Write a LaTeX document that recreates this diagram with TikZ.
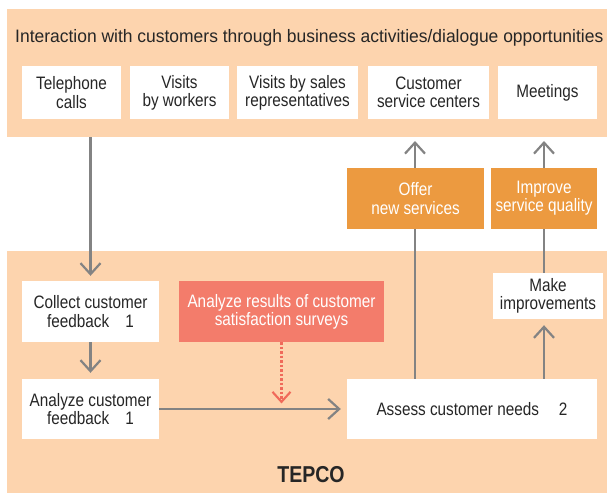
\documentclass[tikz,border=0pt]{standalone}
\usepackage{fontspec}
\setmainfont{Liberation Sans}[FakeStretch=0.85]
\newfontfamily\titlefont{Liberation Sans}[FakeStretch=0.97]
\usetikzlibrary{arrows.meta}
\definecolor{peach}{HTML}{FDD4AE}
\definecolor{orangebox}{HTML}{EC9A40}
\definecolor{redbox}{HTML}{F37C6B}
\definecolor{arrowgray}{HTML}{838383}
\definecolor{reddot}{HTML}{F06A5A}
\tikzset{
  band/.style={fill=peach, draw=none, inner sep=0pt},
  wbox/.style={fill=white, draw=none, inner sep=0pt, align=center, font=\fontsize{18}{18.3}\selectfont, text=black!85},
  obox/.style={fill=orangebox, draw=none, inner sep=0pt, align=center, font=\fontsize{18}{18.3}\selectfont, text=white},
  rbox/.style={fill=redbox, draw=none, inner sep=0pt, align=center, font=\fontsize{18}{18.3}\selectfont, text=white},
  flow/.style={draw=arrowgray, line width=2.2pt, -{Straight Barb[length=11pt,width=20pt,line width=2.2pt]}},
  plain/.style={draw=arrowgray, line width=2.2pt},
  dotflow/.style={draw=reddot, line width=2.3pt, dash pattern=on 2.3pt off 2.2pt, -{Straight Barb[length=10pt,width=18pt,line width=2.1pt,sep]}},
}
\begin{document}
\begin{tikzpicture}[x=1pt,y=-1pt]
\useasboundingbox (0,0) rectangle (607,494);
% bands
\node[band, minimum width=600pt, minimum height=128pt] (topband) at (307,73) {};
\node[band, minimum width=600pt, minimum height=242pt] (botband) at (307,372) {};
% title
\node[anchor=base west, inner sep=0pt, font=\titlefont\fontsize{18}{18}\selectfont, text=black!85] (title) at (15,42.5) {Interaction with customers through business activities/dialogue opportunities};
% top boxes
\node[wbox, minimum width=99pt, minimum height=53pt] (tel) at (71.5,92.5) {Telephone\\calls};
\node[wbox, minimum width=99pt, minimum height=53pt] (vis) at (179.5,92.5) {Visits\\by workers};
\node[wbox, minimum width=121pt, minimum height=53pt] (sales) at (297.5,92.5) {Visits by sales\\representatives};
\node[wbox, minimum width=121pt, minimum height=53pt] (csc) at (428.5,92.5) {Customer\\service centers};
\node[wbox, minimum width=99pt, minimum height=53pt] (meet) at (547.5,92.5) {Meetings};
% orange boxes
\node[obox, minimum width=137pt, minimum height=61pt] (offer) at (415.5,198.5) {Offer\\new services};
\node[obox, minimum width=106pt, minimum height=61pt] (improve) at (544,198.5) {Improve\\service quality};
% lower boxes
\node[wbox, minimum width=137pt, minimum height=61pt] (collect) at (90.5,311.5) {Collect customer\\feedback\hspace{16pt}1};
\node[rbox, minimum width=205pt, minimum height=61pt] (surveys) at (281.5,311.5) {Analyze results of customer\\satisfaction surveys};
\node[wbox, minimum width=110pt, minimum height=46pt] (make) at (548,296) {Make\\improvements};
\node[wbox, minimum width=137pt, minimum height=60pt] (analyze) at (90.5,409) {Analyze customer\\feedback\hspace{16pt}1};
\node[wbox, minimum width=250pt, minimum height=60pt] (assess) at (472,409) {Assess customer needs\hspace{20pt}2};
\node[inner sep=0pt, font=\fontsize{23}{23}\selectfont\bfseries, text=black!85] (tepco) at (311,475) {TEPCO};
% coordinates
\coordinate (offertip) at (415,141);
\coordinate (improvetip) at (544,141);
\coordinate (dottip) at (281.5,405);
% connectors
\draw[flow, shorten >=5pt] (collect.north |- topband.south) -- (collect.north);
\draw[flow, shorten >=6pt] (collect.south) -- (analyze.north);
\draw[flow, shorten >=6pt] (analyze.east) -- (assess.west);
\draw[plain] (assess.north -| offertip) -- (offer.south -| offertip);
\draw[flow] (offer.north -| offertip) -- (offertip);
\draw[flow, shorten >=6pt] (assess.north -| improvetip) -- (make.south -| improvetip);
\draw[plain] (make.north -| improvetip) -- (improve.south);
\draw[flow] (improve.north) -- (improvetip);
\draw[dotflow] (surveys.south) -- (dottip);
\end{tikzpicture}
\end{document}
